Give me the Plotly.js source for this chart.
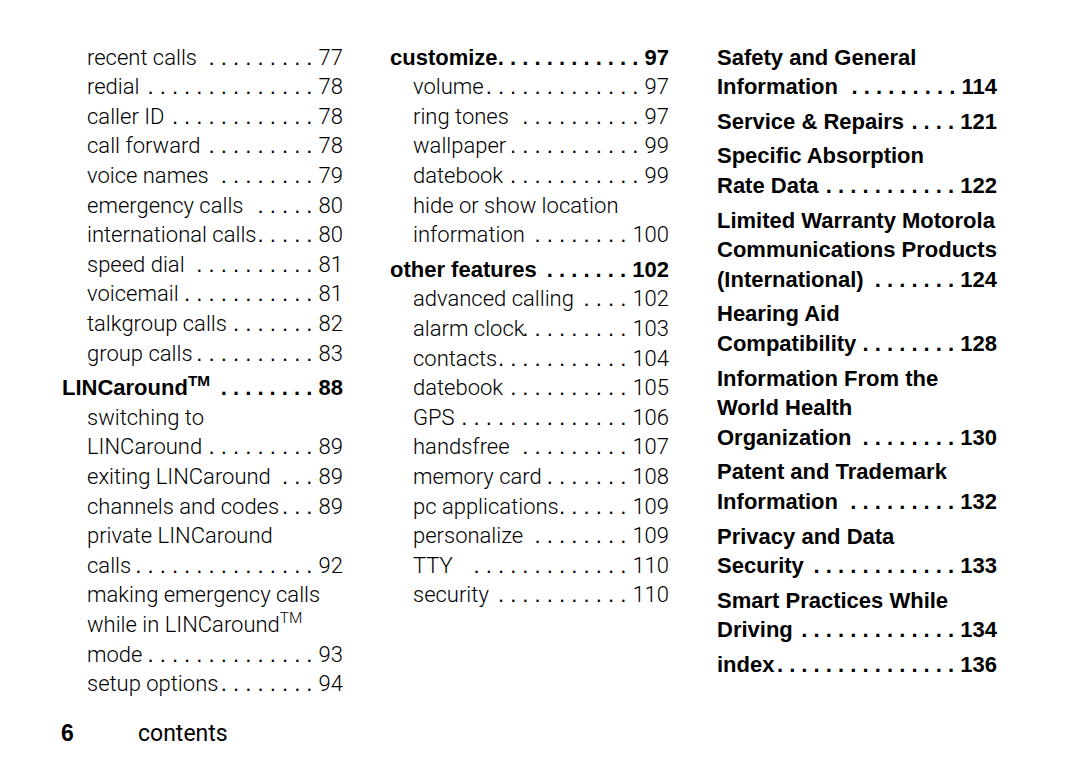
<!DOCTYPE html>
<html>
<head>
<meta charset="utf-8">
<script src="https://cdn.plot.ly/plotly-3.0.1.min.js"></script>
<style>html,body{margin:0;padding:0;background:#fff;}#chart{width:1080px;height:766px;}</style>
</head>
<body>
<div id="chart"></div>
<script>
// ---- data read from the page ----
const col1Labels = ["recent calls","redial","caller ID","call forward","voice names","emergency calls","international calls","speed dial","voicemail","talkgroup calls","group calls","LINCaround<sup>TM</sup>","switching to|LINCaround","exiting LINCaround","channels and codes","private LINCaround|calls","making emergency calls|while in LINCaround<sup>TM</sup>|mode","setup options"];
const col1Pages = ["77","78","78","78","79","80","80","81","81","82","83","88","89","89","89","92","93","94"];
const col1Dots = [9,14,12,9,8,5,5,10,11,7,10,8,9,3,3,15,14,8];
const col1Levels = [1,1,1,1,1,1,1,1,1,1,1,0,1,1,1,1,1,1];

const col2Labels = ["customize","volume","ring tones","wallpaper","datebook","hide or show location|information","other features","advanced calling","alarm clock","contacts","datebook","GPS","handsfree","memory card","pc applications","personalize","TTY","security"];
const col2Pages = ["97","97","97","99","99","100","102","102","103","104","105","106","107","108","109","109","110","110"];
const col2Dots = [12,13,10,11,11,8,7,4,9,11,10,14,9,7,6,8,13,11];
const col2Levels = [0,1,1,1,1,1,0,1,1,1,1,1,1,1,1,1,1,1];

const col3Labels = ["Safety and General|Information","Service &amp; Repairs","Specific Absorption|Rate Data","Limited Warranty Motorola|Communications Products|(International)","Hearing Aid|Compatibility","Information From the|World Health|Organization","Patent and Trademark|Information","Privacy and Data|Security","Smart Practices While|Driving","index"];
const col3Pages = ["114","121","122","124","128","130","132","133","134","136"];
const col3Dots = [9,4,11,7,8,8,9,12,13,15];
const col3Levels = [0,0,0,0,0,0,0,0,0,0];

const footerPage = "6";
const footerTitle = "contents";

// ---- layout helpers ----
const TOP = 59, LINE = 29.6, GAP = 5;
const LIGHT = "Roboto, 'Liberation Sans', sans-serif";
const BOLD = "'Liberation Sans', Arial, sans-serif";
const FS = 22;

const traces = [];
function addColumn(labels, pages, dots, levels, xHead, xSub, xRight) {
  const sets = {0:{lx:[],ly:[],lt:[],rx:[],ry:[],rt:[]}, 1:{lx:[],ly:[],lt:[],rx:[],ry:[],rt:[]}};
  let line = 0, gaps = 0;
  labels.forEach((lab, i) => {
    const lv = levels[i];
    if (lv === 0 && i > 0) gaps++;
    const parts = lab.split("|");
    const s = sets[lv];
    parts.forEach((p, j) => {
      const y = TOP + line * LINE + gaps * GAP;
      s.lx.push(lv === 0 ? xHead : xSub); s.ly.push(y); s.lt.push(p);
      if (j === parts.length - 1) {
        s.rx.push(xRight); s.ry.push(y);
        const lead = Array(dots[i]).fill(".").join(" ") + " ";
        s.rt.push(lv === 0 ? lead + pages[i]
          : '<span style="font-family:Liberation Sans">' + lead + '</span>' + pages[i]);
      }
      line++;
    });
  });
  [0,1].forEach(lv => {
    const s = sets[lv];
    const font = lv === 0 ? {family: BOLD, size: FS, color: "#000", weight: 700}
                          : {family: LIGHT, size: FS, color: "#000", weight: 300};
    traces.push({type:"scatter", mode:"text", x:s.lx, y:s.ly, text:s.lt, textposition:"middle right", textfont:font, hoverinfo:"skip", cliponaxis:false});
    traces.push({type:"scatter", mode:"text", x:s.rx, y:s.ry, text:s.rt, textposition:"middle left", textfont:font, hoverinfo:"skip", cliponaxis:false});
  });
}
addColumn(col1Labels, col1Pages, col1Dots, col1Levels, 62, 87, 343);
addColumn(col2Labels, col2Pages, col2Dots, col2Levels, 390, 413, 669);
addColumn(col3Labels, col3Pages, col3Dots, col3Levels, 717, 717, 997);

traces.push({type:"scatter", mode:"text", x:[61], y:[735], text:[footerPage], textposition:"middle right",
  textfont:{family: BOLD, size: 23, color:"#000", weight:700}, hoverinfo:"skip", cliponaxis:false});
traces.push({type:"scatter", mode:"text", x:[138], y:[735], text:[footerTitle], textposition:"middle right",
  textfont:{family: LIGHT, size: 23, color:"#000", weight:400}, hoverinfo:"skip", cliponaxis:false});

const layout = {
  width:1080, height:766, margin:{l:0,r:0,t:0,b:0},
  paper_bgcolor:"#fff", plot_bgcolor:"#fff", showlegend:false,
  xaxis:{range:[0,1080], visible:false, fixedrange:true},
  yaxis:{range:[766,0], visible:false, fixedrange:true}
};
Plotly.newPlot("chart", traces, layout, {staticPlot:true, displayModeBar:false});
</script>
</body>
</html>
